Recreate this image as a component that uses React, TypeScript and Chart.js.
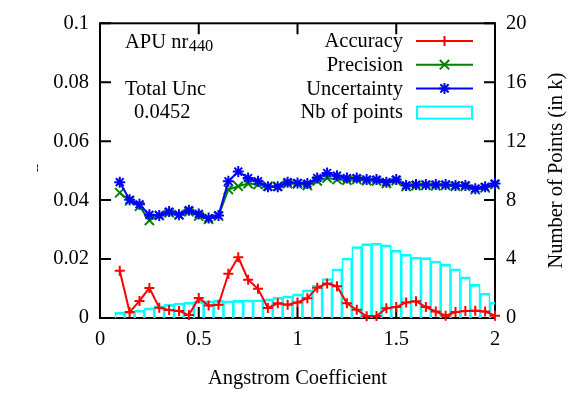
import React, { useEffect, useRef } from 'react';
import { Chart, registerables } from 'chart.js';

Chart.register(...registerables);

const angstrom = [0.1, 0.15, 0.2, 0.25, 0.3, 0.35, 0.4, 0.45, 0.5, 0.55, 0.6, 0.65, 0.7, 0.75, 0.8, 0.85, 0.9, 0.95, 1.0,
  1.05, 1.1, 1.15, 1.2, 1.25, 1.3, 1.35, 1.4, 1.45, 1.5, 1.55, 1.6, 1.65, 1.7, 1.75, 1.8, 1.85, 1.9, 1.95, 2.0];

const accuracy = [0.016, 0.002, 0.0058, 0.0102, 0.0035, 0.0027, 0.0024, 0.001, 0.0068, 0.0042, 0.0045, 0.015, 0.0206,
  0.013, 0.0099, 0.0034, 0.005, 0.0045, 0.0053,
  0.0067, 0.0103, 0.0117, 0.0108, 0.005, 0.0028, 0.0006, 0.0007, 0.0033, 0.0037, 0.0053, 0.0057, 0.0037, 0.0022,
  0.0008, 0.002, 0.0024, 0.0025, 0.0022, 0.0008];

const precision = [0.0425, 0.0398, 0.0379, 0.0331, 0.0348, 0.0357, 0.035, 0.0361, 0.0346, 0.0335, 0.0346, 0.0436,
  0.0447, 0.0456, 0.0453, 0.0447, 0.0447, 0.0456, 0.0455,
  0.045, 0.0465, 0.0475, 0.047, 0.0468, 0.047, 0.0466, 0.0465, 0.0457, 0.0466, 0.0446, 0.0449, 0.045, 0.0449,
  0.045, 0.0447, 0.0447, 0.0436, 0.0442, 0.0453];

const uncertainty = [0.0461, 0.0401, 0.0386, 0.035, 0.0348, 0.0361, 0.035, 0.0366, 0.0353, 0.0339, 0.0348, 0.0464,
  0.0497, 0.0475, 0.0464, 0.0445, 0.0445, 0.0461, 0.0458,
  0.0456, 0.0475, 0.0492, 0.0483, 0.0475, 0.0475, 0.047, 0.047, 0.0461, 0.047, 0.045, 0.0453, 0.0453, 0.0453,
  0.0453, 0.045, 0.045, 0.0439, 0.0445, 0.0456];

const nbPoints = [0.38, 0.42, 0.53, 0.69, 0.82, 0.93, 1.02, 1.08, 1.13, 1.17, 1.2, 1.17, 1.2, 1.22, 1.24, 1.3, 1.42,
  1.5, 1.64, 1.91, 2.21, 2.68, 3.34, 4.07, 4.85, 5.05, 5.07, 4.96, 4.6, 4.34, 4.14, 4.1, 3.87, 3.65, 3.34, 2.79,
  2.28, 1.68, 1.08];

const xTickLabels = ['0', '0.5', '1', '1.5', '2'];
const yTickLabels = ['0', '0.02', '0.04', '0.06', '0.08', '0.1'];
const y2TickLabels = ['0', '4', '8', '12', '16', '20'];

const seriesNames = ['Accuracy', 'Precision', 'Uncertainty', 'Nb of points'];
const xTitle = 'Angstrom Coefficient';
const y2Title = 'Number of Points (in k)';
const yTitle = '--';
const annotTitle = 'APU nr';
const annotSub = '440';
const annotLine1 = 'Total Unc';
const annotLine2 = '0.0452';

const FONT = "'Liberation Serif', 'Times New Roman', serif";
const FS = 20.5;

function drawMarker(ctx: CanvasRenderingContext2D, style: string, x: number, y: number, r: number) {
  ctx.beginPath();
  if (style === 'cross' || style === 'star') {
    ctx.moveTo(x - r, y); ctx.lineTo(x + r, y);
    ctx.moveTo(x, y - r); ctx.lineTo(x, y + r);
  }
  if (style === 'crossRot' || style === 'star') {
    const d = style === 'star' ? r * 0.75 : r * 0.72;
    ctx.moveTo(x - d, y - d); ctx.lineTo(x + d, y + d);
    ctx.moveTo(x - d, y + d); ctx.lineTo(x + d, y - d);
  }
  ctx.stroke();
}

const overlay = {
  id: 'overlay',
  beforeDatasetsDraw(chart: any) {
    const { ctx, chartArea, scales } = chart;
    const { left, right, top, bottom } = chartArea;
    const tl = 11;
    ctx.save();
    ctx.strokeStyle = '#000';
    ctx.lineWidth = 2;
    ctx.beginPath();
    scales.x.ticks.forEach((t: any) => {
      const px = scales.x.getPixelForValue(t.value);
      ctx.moveTo(px, bottom); ctx.lineTo(px, bottom - tl);
      ctx.moveTo(px, top); ctx.lineTo(px, top + tl);
    });
    scales.y.ticks.forEach((t: any) => {
      const py = scales.y.getPixelForValue(t.value);
      ctx.moveTo(left, py); ctx.lineTo(left + tl, py);
    });
    scales.y2.ticks.forEach((t: any) => {
      const py = scales.y2.getPixelForValue(t.value);
      ctx.moveTo(right, py); ctx.lineTo(right - tl, py);
    });
    ctx.stroke();
    ctx.strokeRect(left, top, right - left, bottom - top);
    ctx.restore();
  },
  afterDraw(chart: any) {
    const { ctx, chartArea } = chart;
    ctx.save();
    ctx.fillStyle = '#000';
    ctx.font = `${FS}px ${FONT}`;
    ctx.textBaseline = 'alphabetic';
    // legend
    const ds = chart.data.datasets;
    const textRight = 403;
    const symL = 416;
    const symR = 473;
    ds.forEach((d: any, i: number) => {
      const base = 47.3 + i * 23.7;
      const cy = base - 6.3;
      ctx.fillStyle = '#000';
      ctx.textAlign = 'right';
      ctx.fillText(d.label, textRight, base);
      if (d.type === 'bar') {
        ctx.strokeStyle = d.borderColor;
        ctx.lineWidth = 2;
        ctx.strokeRect(symL + 1, cy - 5.5, symR - symL - 2, 12);
      } else {
        ctx.strokeStyle = d.borderColor;
        ctx.lineWidth = 2;
        ctx.beginPath();
        ctx.moveTo(symL, cy); ctx.lineTo(symR, cy);
        ctx.stroke();
        drawMarker(ctx, d.pointStyle, (symL + symR) / 2, cy, d.pointRadius);
      }
    });
    // annotations
    ctx.fillStyle = '#000';
    ctx.textAlign = 'left';
    ctx.font = `${FS}px ${FONT}`;
    ctx.fillText(annotTitle, 125, 48);
    const w = ctx.measureText(annotTitle).width;
    ctx.font = `${FS * 0.8}px ${FONT}`;
    ctx.fillText(annotSub, 125 + w + 0.5, 51);
    ctx.font = `${FS}px ${FONT}`;
    ctx.fillText(annotLine1, 125, 95);
    ctx.fillText(annotLine2, 134, 118);
    // right axis title
    ctx.save();
    ctx.translate(557, (chartArea.top + chartArea.bottom) / 2);
    ctx.rotate(-Math.PI / 2);
    ctx.textAlign = 'center';
    ctx.textBaseline = 'middle';
    ctx.fillText(y2Title, 0, 0);
    ctx.restore();
    // small left axis label
    ctx.save();
    ctx.translate(38, 168);
    ctx.rotate(-Math.PI / 2);
    ctx.font = `12px ${FONT}`;
    ctx.textAlign = 'center';
    ctx.textBaseline = 'middle';
    ctx.fillText(yTitle, 0, 0);
    ctx.restore();
    ctx.restore();
  },
};

export default function App() {
  const ref = useRef<HTMLCanvasElement | null>(null);
  useEffect(() => {
    if (!ref.current) return;
    const pts = (arr: number[]) => angstrom.map((x, i) => ({ x, y: arr[i] }));
    const chart = new Chart(ref.current, {
      type: 'line',
      data: {
        datasets: [
          {
            type: 'line',
            label: seriesNames[0],
            data: pts(accuracy),
            yAxisID: 'y',
            borderColor: '#ff0000',
            backgroundColor: '#ff0000',
            borderWidth: 2,
            pointStyle: 'cross',
            pointRadius: 5,
            pointBorderWidth: 2,
            pointBorderColor: '#ff0000',
            tension: 0,
            clip: false,
            order: 0,
          },
          {
            type: 'line',
            label: seriesNames[1],
            data: pts(precision),
            yAxisID: 'y',
            borderColor: '#008000',
            backgroundColor: '#008000',
            borderWidth: 2,
            pointStyle: 'crossRot',
            pointRadius: 6.5,
            pointBorderWidth: 2,
            pointBorderColor: '#008000',
            tension: 0,
            clip: false,
            order: 2,
          },
          {
            type: 'line',
            label: seriesNames[2],
            data: pts(uncertainty),
            yAxisID: 'y',
            borderColor: '#0000ff',
            backgroundColor: '#0000ff',
            borderWidth: 2,
            pointStyle: 'star',
            pointRadius: 5.5,
            pointBorderWidth: 2,
            pointBorderColor: '#0000ff',
            tension: 0,
            clip: false,
            order: 1,
          },
          {
            type: 'bar',
            label: seriesNames[3],
            data: pts(nbPoints),
            yAxisID: 'y2',
            borderColor: '#00ffff',
            backgroundColor: 'rgba(0,0,0,0)',
            borderWidth: { top: 2, left: 1, right: 1, bottom: 0 },
            borderSkipped: false,
            barPercentage: 1,
            categoryPercentage: 1,
            clip: 0,
            order: 4,
          } as any,
        ],
      },
      options: {
        animation: false,
        responsive: false,
        devicePixelRatio: 1,
        layout: { padding: { top: 17, left: 0, right: 0, bottom: 0 } },
        plugins: { legend: { display: false }, tooltip: { enabled: false } },
        scales: {
          x: {
            type: 'linear',
            min: 0,
            max: 2,
            offset: false,
            grid: { display: false, drawTicks: false },
            border: { display: false },
            ticks: {
              stepSize: 0.5,
              padding: 9,
              color: '#000',
              font: { family: FONT, size: FS },
              maxRotation: 0,
              callback: (_v: any, i: number) => xTickLabels[i],
            },
            title: {
              display: true,
              text: xTitle,
              color: '#000',
              font: { family: FONT, size: FS },
              padding: { top: 0, bottom: 4 },
            },
            afterFit: (s: any) => { s.height = 77; },
          },
          y: {
            type: 'linear',
            position: 'left',
            min: 0,
            max: 0.1,
            grid: { display: false, drawTicks: false },
            border: { display: false },
            ticks: {
              stepSize: 0.02,
              padding: 11,
              color: '#000',
              font: { family: FONT, size: FS },
              callback: (_v: any, i: number) => yTickLabels[i],
            },
            afterFit: (s: any) => { s.width = 100; },
          },
          y2: {
            type: 'linear',
            position: 'right',
            min: 0,
            max: 20,
            grid: { display: false, drawTicks: false },
            border: { display: false },
            ticks: {
              stepSize: 4,
              padding: 11,
              color: '#000',
              font: { family: FONT, size: FS },
              callback: (_v: any, i: number) => y2TickLabels[i],
            },
            afterFit: (s: any) => { s.width = 83; },
          },
        },
      },
      plugins: [overlay],
    } as any);
    return () => chart.destroy();
  }, []);
  return (
    <div style={{ position: 'absolute', left: 0, top: 0, width: 578, height: 395, background: '#fff' }}>
      <canvas ref={ref} width={578} height={395} style={{ width: 578, height: 395, display: 'block' }} />
    </div>
  );
}
